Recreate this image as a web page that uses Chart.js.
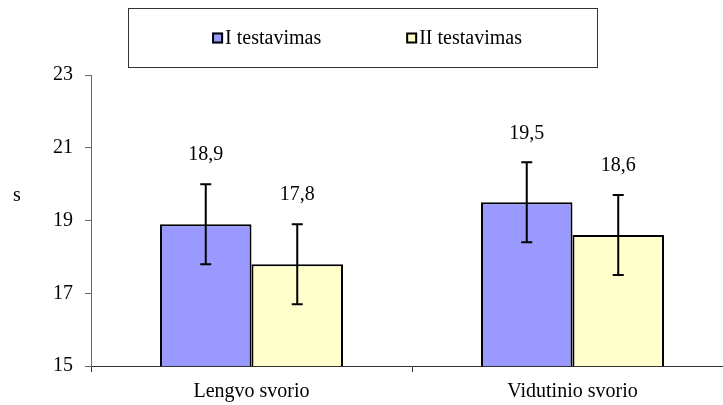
<!DOCTYPE html>
<html>
<head>
<meta charset="utf-8">
<script src="https://cdn.jsdelivr.net/npm/chart.js@4/dist/chart.umd.min.js"></script>
<style>
  html, body { margin: 0; padding: 0; background: #fff; overflow: hidden; }
  #wrap { width: 723px; height: 405px; overflow: hidden; }
</style>
</head>
<body>
<div id="wrap"><canvas id="c" width="733" height="405"></canvas></div>
<script>
const categories = ['Lengvo svorio', 'Vidutinio svorio'];
const seriesLabels = ['I testavimas', 'II testavimas'];
const seriesI = [18.9, 19.5];
const seriesII = [17.8, 18.6];
const errorsI = [1.1, 1.1];
const errorsII = [1.1, 1.1];
const yMin = 15, yMax = 23, yStep = 2;
const yTitle = 's';
const colors = ['#9999FF', '#FFFFCC'];

const FONT = '"Liberation Serif", "Times New Roman", serif';
const FS = 20;
Chart.defaults.font.family = FONT;
Chart.defaults.font.size = FS;
Chart.defaults.color = '#000';

const fmt = v => v.toFixed(1).replace('.', ',');

const errorBarPlugin = {
  id: 'errorBars',
  afterDatasetsDraw(chart) {
    const ctx = chart.ctx;
    const ys = chart.scales.y;
    ctx.save();
    chart.data.datasets.forEach((ds, di) => {
      const meta = chart.getDatasetMeta(di);
      meta.data.forEach((el, i) => {
        const v = ds.data[i], e = ds.errors[i];
        const yt = ys.getPixelForValue(v + e);
        const yb = ys.getPixelForValue(v - e);
        ctx.strokeStyle = '#000';
        ctx.lineWidth = 2;
        ctx.beginPath();
        ctx.moveTo(el.x, yt); ctx.lineTo(el.x, yb);
        ctx.moveTo(el.x - 5.5, yt); ctx.lineTo(el.x + 5.5, yt);
        ctx.moveTo(el.x - 5.5, yb); ctx.lineTo(el.x + 5.5, yb);
        ctx.stroke();
        ctx.fillStyle = '#000';
        ctx.font = FS + 'px ' + FONT;
        ctx.textAlign = 'center';
        ctx.textBaseline = 'middle';
        ctx.fillText(fmt(v), el.x, yt - 29);
      });
    });
    ctx.restore();
  }
};

const legendBoxPlugin = {
  id: 'legendBox',
  afterDraw(chart) {
    const ctx = chart.ctx;
    ctx.save();
    const bx = 128.5, by = 8.5, bw = 469, bh = 59;
    ctx.strokeStyle = '#333';
    ctx.lineWidth = 1;
    ctx.strokeRect(bx, by, bw, bh);
    ctx.font = FS + 'px ' + FONT;
    ctx.textBaseline = 'middle';
    ctx.textAlign = 'left';
    const sq = 11, gapT = 2, gapItems = 85;
    const widths = chart.data.datasets.map(ds => sq + gapT + ctx.measureText(ds.label).width);
    const total = widths.reduce((a, b) => a + b, 0) + gapItems * (widths.length - 1);
    let x = bx + bw / 2 - total / 2 + 4;
    const cy = 38;
    chart.data.datasets.forEach((ds, i) => {
      ctx.fillStyle = ds.backgroundColor;
      ctx.fillRect(x, cy - sq / 2, sq, sq);
      ctx.strokeStyle = '#000';
      ctx.lineWidth = 2;
      ctx.strokeRect(x + 1, cy - sq / 2 + 1, sq - 2, sq - 2);
      ctx.fillStyle = '#000';
      ctx.fillText(ds.label, x + sq + gapT, cy + 1);
      x += widths[i] + gapItems;
    });
    const ca = chart.chartArea;
    ctx.textAlign = 'center';
    ctx.fillText(yTitle, 17, ca.top + (ca.bottom - ca.top) * 0.415);
    ctx.restore();
  }
};

function build() {
  new Chart(document.getElementById('c'), {
    type: 'bar',
    data: {
      labels: categories,
      datasets: [
        { label: seriesLabels[0], data: seriesI, errors: errorsI, backgroundColor: colors[0], borderColor: '#000', borderWidth: 2 },
        { label: seriesLabels[1], data: seriesII, errors: errorsII, backgroundColor: colors[1], borderColor: '#000', borderWidth: 2 }
      ]
    },
    options: {
      responsive: false,
      animation: false,
      layout: { padding: { left: 0, right: 0, top: 75, bottom: 0 } },
      plugins: { legend: { display: false }, tooltip: { enabled: false } },
      datasets: { bar: { categoryPercentage: 0.57, barPercentage: 1.0 } },
      scales: {
        x: {
          afterFit: s => { s.height = 39; },
          grid: { display: true, drawOnChartArea: false, drawTicks: true, tickLength: 6, color: '#333', offset: true },
          border: { display: true, color: '#333', width: 1 },
          ticks: { padding: 8, color: '#000', font: { size: FS } }
        },
        y: {
          min: yMin, max: yMax,
          afterFit: s => { s.width = 91; },
          grid: { display: true, drawOnChartArea: false, drawTicks: true, tickLength: 6, color: '#666' },
          border: { display: true, color: '#666', width: 1 },
          ticks: { stepSize: yStep, padding: 12, color: '#000', font: { size: FS } }
        }
      }
    },
    plugins: [errorBarPlugin, legendBoxPlugin]
  });
}

if (document.fonts && document.fonts.load) {
  document.fonts.load(FS + 'px "Liberation Serif"').then(build, build);
} else {
  build();
}
</script>
</body>
</html>
